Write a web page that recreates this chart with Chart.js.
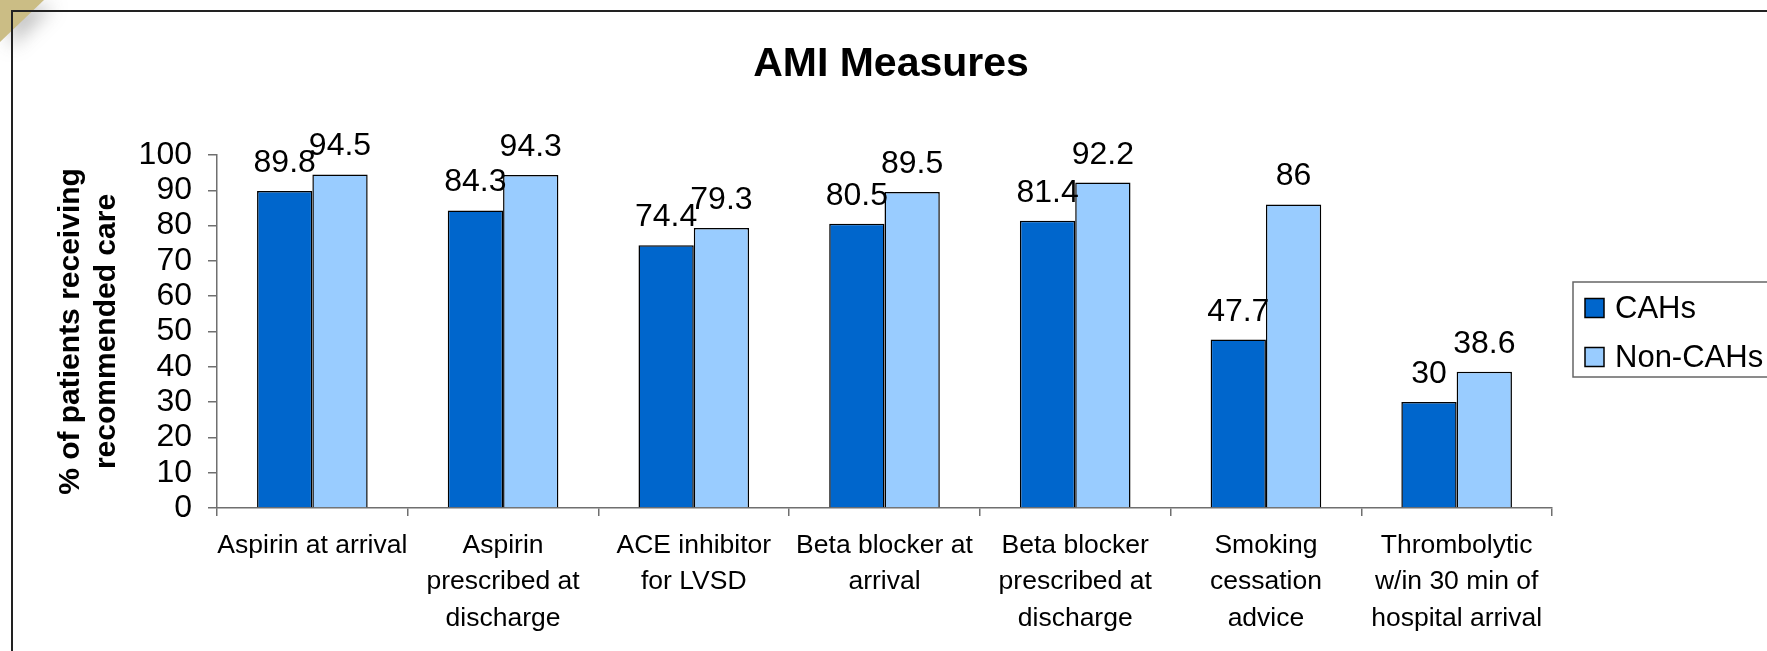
<!DOCTYPE html>
<html lang="en">

<head>
    <meta charset="UTF-8">
    <meta name="viewport" content="width=device-width, initial-scale=1.0">
    <title>AMI Measures</title>
    <style>
        body {
            margin: 0;
            background: #fff;
        }

        .chart {
            position: relative;
            width: 1767px;
            height: 651px;
        }
    </style>
</head>

<body>
    <div class="chart">
        <canvas id="amiChart" width="1767" height="651"></canvas>
    </div>

    <script src="https://cdn.jsdelivr.net/npm/chart.js@4.4.4/dist/chart.umd.min.js"></script>
    <script>
        // values
        const measures = [
            ['Aspirin at arrival'],
            ['Aspirin', 'prescribed at', 'discharge'],
            ['ACE inhibitor', 'for LVSD'],
            ['Beta blocker at', 'arrival'],
            ['Beta blocker', 'prescribed at', 'discharge'],
            ['Smoking', 'cessation', 'advice'],
            ['Thrombolytic', 'w/in 30 min of', 'hospital arrival']
        ];
        const seriesNames = ['CAHs', 'Non-CAHs'];
        const cahValues = [89.8, 84.3, 74.4, 80.5, 81.4, 47.7, 30];
        const nonCahValues = [94.5, 94.3, 79.3, 89.5, 92.2, 86, 38.6];
        const yTicks = [0, 10, 20, 30, 40, 50, 60, 70, 80, 90, 100];

        const fontFamily = "'Liberation Sans', Arial, Helvetica, sans-serif";
        const axisGrey = '#6f6f6f';
        Chart.defaults.font.family = fontFamily;
        Chart.defaults.color = '#000';

        // slide frame + the little gold corner
        const framePlugin = {
            id: 'frame',
            beforeDraw(chart) {
                const c = chart.ctx;
                c.save();
                c.shadowColor = 'rgba(120,120,120,0.45)';
                c.shadowBlur = 18;
                c.shadowOffsetX = 10;
                c.shadowOffsetY = 6;
                c.fillStyle = '#cbbd85';
                c.beginPath();
                c.moveTo(0, 0);
                c.lineTo(44, 0);
                c.lineTo(0, 42);
                c.closePath();
                c.fill();
                c.restore();

                c.save();
                c.strokeStyle = '#222';
                c.lineWidth = 2;
                c.beginPath();
                c.moveTo(12, chart.height + 2);
                c.lineTo(12, 11);
                c.lineTo(chart.width + 2, 11);
                c.stroke();
                c.restore();
            }
        };

        const titlePlugin = {
            id: 'bigTitle',
            afterDraw(chart) {
                const c = chart.ctx;
                c.save();
                c.font = 'bold 41px ' + fontFamily;
                c.fillStyle = '#000';
                c.textAlign = 'center';
                c.textBaseline = 'alphabetic';
                c.fillText('AMI Measures', 891, 76);
                c.restore();
            }
        };

        // numbers over the bars
        const valueLabels = {
            id: 'valueLabels',
            afterDatasetsDraw(chart) {
                const c = chart.ctx;
                c.save();
                c.font = '32px ' + fontFamily;
                c.fillStyle = '#000';
                c.textAlign = 'center';
                c.textBaseline = 'alphabetic';
                chart.data.datasets.forEach((ds, i) => {
                    chart.getDatasetMeta(i).data.forEach((bar, j) => {
                        c.fillText(String(ds.data[j]), bar.x, bar.y - 19);
                    });
                });
                c.restore();
            }
        };

        // boxed legend on the right, partly cut by the edge like the original
        const boxLegend = {
            id: 'boxLegend',
            afterDraw(chart) {
                const c = chart.ctx;
                c.save();
                c.strokeStyle = '#666';
                c.lineWidth = 1.5;
                c.strokeRect(1573, 282, 220, 95);
                c.font = '31px ' + fontFamily;
                c.textBaseline = 'middle';
                c.textAlign = 'left';
                chart.data.datasets.forEach((ds, i) => {
                    const y = 308 + i * 49;
                    c.fillStyle = ds.backgroundColor;
                    c.fillRect(1585, y - 9.5, 19, 19);
                    c.strokeStyle = '#000';
                    c.lineWidth = 1.5;
                    c.strokeRect(1585, y - 9.5, 19, 19);
                    c.fillStyle = '#000';
                    c.fillText(ds.label, 1615, y + 1);
                });
                c.restore();
            }
        };

        const ctx = document.getElementById('amiChart').getContext('2d');
        const amiChart = new Chart(ctx, {
            type: 'bar',
            data: {
                labels: measures,
                datasets: [{
                    label: seriesNames[0],
                    data: cahValues,
                    backgroundColor: '#0066cc',
                    borderColor: '#000',
                    borderWidth: 1.5,
                    categoryPercentage: 0.58,
                    barPercentage: 1
                }, {
                    label: seriesNames[1],
                    data: nonCahValues,
                    backgroundColor: '#99ccff',
                    borderColor: '#000',
                    borderWidth: 1.5,
                    categoryPercentage: 0.58,
                    barPercentage: 1
                }]
            },
            options: {
                responsive: false,
                animation: false,
                layout: {
                    padding: { top: 155, left: 0, right: 215, bottom: 0 }
                },
                plugins: {
                    legend: { display: false },
                    title: { display: false },
                    tooltip: { enabled: false }
                },
                scales: {
                    x: {
                        grid: {
                            offset: true,
                            drawOnChartArea: false,
                            drawTicks: true,
                            tickLength: 8,
                            color: axisGrey,
                            lineWidth: 1.5
                        },
                        border: { display: true, color: axisGrey, width: 1.5 },
                        ticks: {
                            font: { size: 26.5, lineHeight: 1.38 },
                            color: '#000',
                            padding: 11,
                            maxRotation: 0,
                            autoSkip: false
                        },
                        afterFit(scale) {
                            scale.height = 143;
                        }
                    },
                    y: {
                        min: yTicks[0],
                        max: yTicks[yTicks.length - 1],
                        afterBuildTicks(scale) {
                            scale.ticks = yTicks.map(v => ({ value: v }));
                        },
                        grid: {
                            drawOnChartArea: false,
                            drawTicks: true,
                            tickLength: 9,
                            color: axisGrey,
                            lineWidth: 1.5
                        },
                        border: { display: true, color: axisGrey, width: 1.5 },
                        ticks: {
                            font: { size: 32 },
                            color: '#000',
                            padding: 16,
                            autoSkip: false
                        },
                        title: {
                            display: true,
                            text: ['% of patients receiving', 'recommended care'],
                            font: { size: 30, weight: 'bold', lineHeight: 1.2 },
                            color: '#000',
                            padding: { top: 53, bottom: 0 }
                        },
                        afterFit(scale) {
                            scale.width = 217;
                        }
                    }
                }
            },
            plugins: [framePlugin, valueLabels, titlePlugin, boxLegend]
        });
    </script>
</body>

</html>
